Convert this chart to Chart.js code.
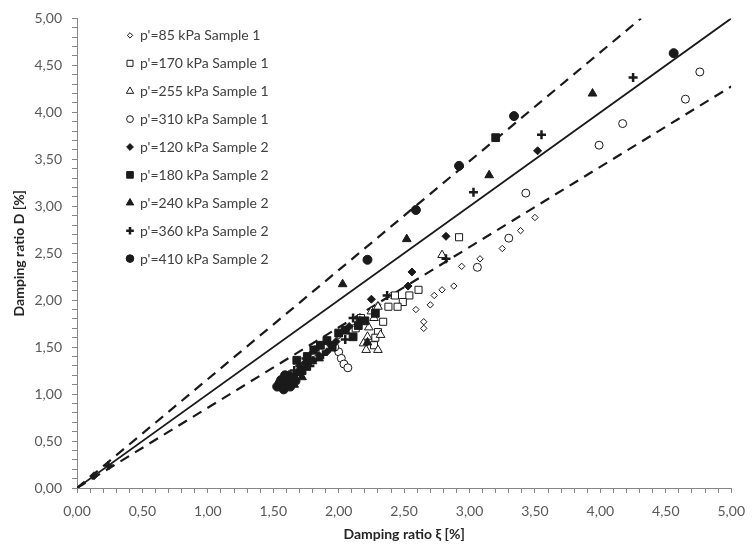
<!DOCTYPE html>
<html>
<head>
<meta charset="utf-8">
<script src="https://cdn.jsdelivr.net/npm/chart.js@4.4.1/dist/chart.umd.min.js"></script>
<style>
  html, body { margin: 0; padding: 0; background: #ffffff; }
  #wrap { width: 755px; height: 547px; position: relative; }
</style>
</head>
<body>
<div id="wrap"><canvas id="c"></canvas></div>
<script>
// ---- data (x = ξ [%], y = D [%]) ----
const seriesLabels = [
  "p'=85 kPa Sample 1", "p'=170 kPa Sample 1", "p'=255 kPa Sample 1", "p'=310 kPa Sample 1",
  "p'=120 kPa Sample 2", "p'=180 kPa Sample 2", "p'=240 kPa Sample 2", "p'=360 kPa Sample 2",
  "p'=410 kPa Sample 2"
];
const s85_1 = [[3.50,2.88],[3.39,2.74],[3.25,2.55],[3.08,2.44],[2.94,2.36],[2.88,2.15],[2.79,2.11],[2.73,2.05],[2.70,1.95],[2.59,1.90],[2.65,1.77],[2.65,1.70],[2.40,2.05],[2.30,1.95],[2.00,1.62],[1.80,1.45]];
const s170_1 = [[2.92,2.67],[2.61,2.11],[2.54,2.05],[2.49,1.98],[2.43,2.05],[2.38,1.93],[2.34,1.77],[2.30,1.66],[2.28,1.60],[2.27,1.52],[2.13,1.70],[2.17,1.81],[2.45,1.93]];
const s255_1 = [[2.79,2.48],[2.30,1.93],[2.27,1.81],[2.23,1.71],[2.22,1.61],[2.19,1.54],[2.21,1.47],[2.30,1.47],[2.32,1.63],[2.25,1.88]];
const s310_1 = [[4.76,4.43],[4.65,4.14],[4.17,3.88],[3.99,3.65],[3.43,3.14],[3.30,2.66],[3.06,2.35],[2.00,1.45],[2.02,1.38],[2.04,1.32],[2.07,1.28],[1.97,1.50]];
const s120_2 = [[0.13,0.13],[2.82,2.68],[2.56,2.30],[2.53,2.15],[2.25,2.01],[3.52,3.59],[1.81,1.36],[1.91,1.45],[1.85,1.41],[1.70,1.30],[1.63,1.20],[1.98,1.56],[2.08,1.72],[1.74,1.33],[1.94,1.52],[2.16,1.79]];
const s180_2 = [[3.20,3.73],[2.28,1.86],[2.15,1.73],[2.11,1.61],[2.00,1.65],[1.91,1.57],[1.81,1.47],[1.68,1.36],[1.72,1.25],[1.95,1.50],[1.60,1.17],[1.76,1.40],[1.86,1.52],[2.05,1.68],[2.20,1.78]];
const s240_2 = [[3.94,4.20],[3.15,3.33],[2.52,2.65],[2.03,2.17],[1.62,1.20],[1.68,1.22],[1.72,1.18],[1.75,1.28],[1.80,1.35],[1.66,1.10],[2.22,1.55],[1.70,1.26],[1.77,1.32],[1.85,1.38]];
const s360_2 = [[0.24,0.24],[4.25,4.37],[3.55,3.76],[3.03,3.15],[2.82,2.44],[2.37,2.05],[2.11,1.81],[1.75,1.38],[1.88,1.42],[1.78,1.30],[2.05,1.58],[1.82,1.47],[1.93,1.55],[1.66,1.25]];
const s410_2 = [[4.56,4.63],[3.34,3.96],[2.92,3.43],[2.59,2.96],[2.22,2.43],[1.53,1.08],[1.55,1.12],[1.57,1.10],[1.60,1.15],[1.58,1.05],[1.62,1.12],[1.65,1.18],[1.56,1.15],[1.59,1.20],[1.63,1.08],[1.67,1.14]];

// reference lines D = k * ξ
const lineSlopes = [1.0, 1.16, 0.855];   // solid, upper dashed, lower dashed
const axisMin = 0, axisMax = 5;

// ---- styles ----
const INK = '#1a1a1a';
const styles = [
  { pointStyle: 'rectRot',  radius: 3.2, fill: '#ffffff', bw: 1 },
  { pointStyle: 'rect',     radius: 5.0, fill: '#ffffff', bw: 1 },
  { pointStyle: 'triangle', radius: 5.0, fill: '#ffffff', bw: 1 },
  { pointStyle: 'circle',   radius: 4.0, fill: '#ffffff', bw: 1 },
  { pointStyle: 'rectRot',  radius: 4.0, fill: INK, bw: 1 },
  { pointStyle: 'rect',     radius: 5.5, fill: INK, bw: 1 },
  { pointStyle: 'triangle', radius: 5.0, fill: INK, bw: 1 },
  { pointStyle: 'cross',    radius: 4.5, fill: INK, bw: 2.5 },
  { pointStyle: 'circle',   radius: 4.5, fill: INK, bw: 1 }
];
const seriesData = [s85_1, s170_1, s255_1, s310_1, s120_2, s180_2, s240_2, s360_2, s410_2];

const datasets = seriesData.map((arr, i) => ({
  type: 'scatter',
  label: seriesLabels[i],
  data: arr.map(p => ({ x: p[0], y: p[1] })),
  pointStyle: styles[i].pointStyle,
  pointRadius: styles[i].radius,
  pointHoverRadius: styles[i].radius,
  pointBackgroundColor: styles[i].fill,
  pointBorderColor: INK,
  pointBorderWidth: styles[i].bw,
  showLine: false,
  order: 20 - i
}));

lineSlopes.forEach((k, i) => {
  const xEnd = Math.min(axisMax, axisMax / k);
  datasets.push({
    type: 'line',
    label: 'line' + i,
    data: [{ x: 0, y: 0 }, { x: xEnd, y: k * xEnd }],
    borderColor: INK,
    borderWidth: i === 0 ? 1.8 : 2.2,
    borderDash: i === 0 ? [] : [10, 7],
    pointRadius: 0,
    fill: false,
    tension: 0,
    order: 100
  });
});

function fmt(v) {
  if (Math.abs(v * 2 - Math.round(v * 2)) < 1e-6) return v.toFixed(2).replace('.', ',');
  return '';
}

function drawMarker(ctx, st, x, y) {
  ctx.save();
  ctx.fillStyle = st.fill;
  ctx.strokeStyle = INK;
  ctx.lineWidth = st.bw;
  if (Chart.helpers && Chart.helpers.drawPoint) {
    Chart.helpers.drawPoint(ctx, { pointStyle: st.pointStyle, radius: st.radius * 0.85, borderWidth: st.bw, rotation: 0 }, x, y);
  } else {
    ctx.beginPath(); ctx.arc(x, y, st.radius * 0.85, 0, Math.PI * 2); ctx.fill(); ctx.stroke();
  }
  ctx.restore();
}

const legendPlugin = {
  id: 'inLegend',
  afterDatasetsDraw(chart) {
    const ctx = chart.ctx;
    const a = chart.chartArea;
    const mx = a.left + 53, tx = a.left + 63;
    const y0 = a.top + 17, step = 27.9;
    ctx.save();
    ctx.font = '14px Lato';
    ctx.textBaseline = 'middle';
    ctx.textAlign = 'left';
    seriesLabels.forEach((lab, i) => {
      const y = y0 + i * step;
      drawMarker(ctx, styles[i], mx, y);
      ctx.fillStyle = '#404040';
      ctx.fillText(lab, tx, y + 0.5);
    });
    ctx.restore();
  }
};

const axisCommon = (title, pos) => ({
  type: 'linear',
  position: pos,
  min: axisMin,
  max: axisMax,
  ticks: {
    stepSize: 0.1,
    autoSkip: false,
    maxRotation: 0,
    minRotation: 0,
    maxTicksLimit: 100,
    padding: 10,
    color: '#595959',
    font: { family: 'Lato', size: 14 },
    callback: (v) => fmt(v)
  },
  grid: {
    display: true,
    drawOnChartArea: false,
    drawTicks: true,
    tickLength: 5,
    color: '#868686',
    lineWidth: 1
  },
  border: { display: true, color: '#868686', width: 1 },
  title: {
    display: true,
    text: title,
    color: '#262626',
    font: { family: 'Lato', size: 14, weight: 'bold' },
    padding: pos === 'bottom' ? { top: 0, bottom: 4 } : { top: 11, bottom: 0 }
  }
});

const xAxis = axisCommon('Damping ratio ξ [%]', 'bottom');
xAxis.afterFit = (s) => { s.height = 59; };
const yAxis = axisCommon('Damping ratio D [%]', 'left');
yAxis.afterFit = (s) => { s.width = 77; };

new Chart(document.getElementById('c'), {
  type: 'scatter',
  data: { datasets },
  options: {
    responsive: true,
    maintainAspectRatio: false,
    animation: false,
    devicePixelRatio: 1,
    layout: { padding: { left: 0, top: 18, right: 14, bottom: 0 } },
    plugins: { legend: { display: false }, tooltip: { enabled: false } },
    scales: { x: xAxis, y: yAxis }
  },
  plugins: [legendPlugin]
});
</script>
</body>
</html>
